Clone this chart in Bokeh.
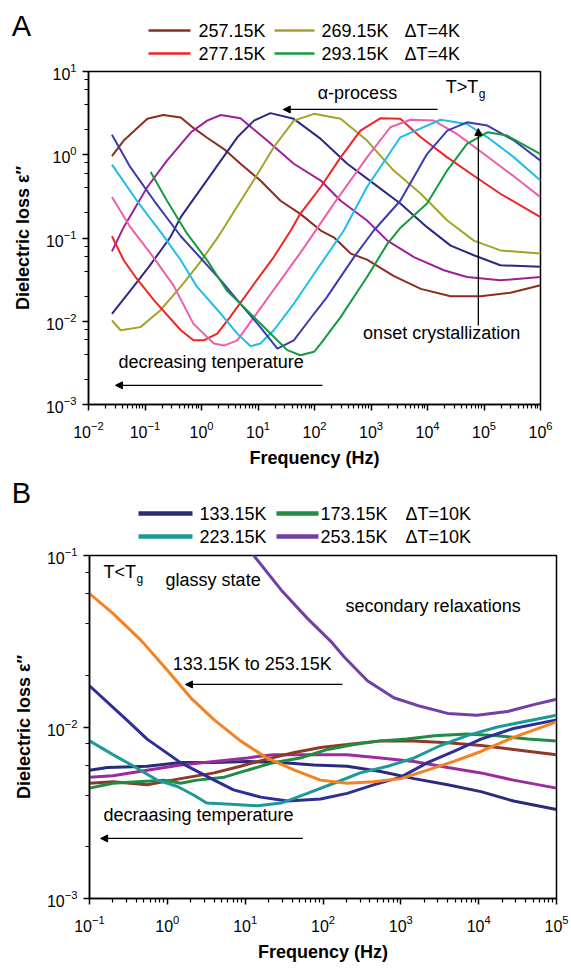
from bokeh.plotting import figure
from bokeh.models import Range1d, FixedTicker, Label, Arrow, NormalHead
from bokeh.core.properties import value
from bokeh.embed import file_html
from bokeh.resources import INLINE

FONT = "Liberation Sans"

# ---------------- Panel A data (T > Tg), frequency in Hz, dielectric loss ----------------
a257_f = [0.026, 0.042, 0.11, 0.21, 0.43, 0.72, 1.26, 2.5, 4.9, 11, 25, 56, 129, 219, 437, 850, 2500, 7600, 25700, 87000, 295000, 1e6]
a257_e = [0.96, 1.48, 2.7, 3.0, 2.8, 2.1, 1.6, 1.17, 0.78, 0.49, 0.28, 0.195, 0.123, 0.102, 0.065, 0.055, 0.035, 0.0245, 0.020, 0.020, 0.022, 0.027]

a261_f = [0.026, 0.042, 0.11, 0.245, 0.65, 1.26, 2.2, 4.9, 14.5, 43, 129, 290, 850, 1950, 5750, 19500, 50000, 195000, 1e6]
a261_e = [0.069, 0.135, 0.41, 0.85, 1.86, 2.57, 3.0, 2.75, 1.48, 0.78, 0.49, 0.28, 0.162, 0.093, 0.059, 0.041, 0.034, 0.031, 0.034]

a265_f = [0.026, 0.055, 0.117, 0.28, 0.43, 1.66, 4.3, 8.5, 16.6, 43, 129, 380, 1120, 3300, 9800, 25700, 66000, 195000, 1e6]
a265_e = [0.0123, 0.0234, 0.045, 0.102, 0.178, 0.65, 1.62, 2.57, 3.16, 2.7, 1.55, 0.78, 0.45, 0.26, 0.135, 0.081, 0.062, 0.047, 0.045]

a269_f = [0.026, 0.037, 0.083, 0.186, 0.43, 0.65, 1.0, 2.04, 8.5, 19, 43, 98, 290, 850, 2500, 7600, 22400, 66000, 195000, 1e6]
a269_e = [0.0102, 0.0078, 0.0085, 0.0135, 0.026, 0.037, 0.054, 0.107, 0.5, 1.23, 2.57, 3.1, 2.7, 1.48, 0.65, 0.34, 0.162, 0.093, 0.071, 0.065]

a277_f = [0.026, 0.042, 0.068, 0.145, 0.43, 0.72, 1.1, 1.9, 3.2, 8.5, 19, 38, 56, 129, 290, 650, 1480, 3300, 7600, 22400, 66000, 195000, 1e6]
a277_e = [0.105, 0.054, 0.034, 0.0178, 0.0078, 0.0059, 0.0059, 0.0071, 0.0112, 0.028, 0.059, 0.123, 0.195, 0.41, 0.93, 1.95, 2.75, 2.7, 1.62, 0.93, 0.56, 0.34, 0.178]

a281_f = [0.026, 0.055, 0.126, 0.32, 0.72, 1.66, 2.5, 4.3, 8.5, 25, 63, 219, 850, 2200, 5000, 12900, 33000, 100000, 295000, 1e6]
a281_e = [0.31, 0.135, 0.065, 0.027, 0.0093, 0.0054, 0.0051, 0.0059, 0.0112, 0.031, 0.074, 0.257, 0.93, 2.14, 2.63, 2.57, 1.78, 1.02, 0.59, 0.31]

a285_f = [0.026, 0.072, 0.2, 0.43, 0.83, 2.2, 4.3, 7.4, 11, 19, 43, 98, 330, 850, 3300, 17000, 50000, 115000, 340000, 1e6]
a285_e = [0.76, 0.28, 0.112, 0.054, 0.026, 0.0123, 0.0071, 0.005, 0.0054, 0.0078, 0.0162, 0.037, 0.123, 0.41, 1.62, 2.63, 2.34, 1.62, 0.93, 0.49]

a289_f = [0.026, 0.055, 0.145, 0.43, 1.0, 2.2, 4.9, 11, 22, 43, 98, 166, 500, 1120, 3300, 9800, 22400, 50000, 115000, 340000, 1e6]
a289_e = [1.74, 0.71, 0.28, 0.105, 0.056, 0.031, 0.0162, 0.0085, 0.0047, 0.0059, 0.0123, 0.0195, 0.059, 0.123, 0.28, 1.02, 1.95, 2.45, 2.24, 1.48, 0.85]

a293_f = [0.126, 0.245, 0.56, 1.26, 2.8, 8.5, 19, 33, 56, 98, 129, 290, 850, 1950, 3300, 9800, 22400, 50000, 115000, 257000, 1e6]
a293_e = [0.62, 0.28, 0.112, 0.054, 0.0234, 0.0112, 0.0065, 0.0045, 0.0039, 0.0043, 0.0054, 0.0112, 0.034, 0.085, 0.132, 0.26, 0.65, 1.35, 1.86, 1.7, 1.02]

a_curves = [
    (a257_f, a257_e, "#8B2E1E"),
    (a261_f, a261_e, "#9C1F9C"),
    (a265_f, a265_e, "#2A2A86"),
    (a269_f, a269_e, "#A3A32A"),
    (a277_f, a277_e, "#F02424"),
    (a281_f, a281_e, "#EE5FAA"),
    (a285_f, a285_e, "#1EBDEB"),
    (a289_f, a289_e, "#3C3CB0"),
    (a293_f, a293_e, "#159A40"),
]
a_legend_labels = ["257.15K", "269.15K", "277.15K", "293.15K"]
a_legend_colors = ["#8B2E1E", "#A3A32A", "#F02424", "#159A40"]
a_legend_step = "\u0394T=4K"

# ---------------- Panel B data (T < Tg) ----------------
b133_f = [0.1, 0.17, 0.55, 1.48, 4.0, 10.7, 29, 76, 204, 550, 1480, 4000, 10700, 28000, 100000]
b133_e = [0.0056, 0.0058, 0.0059, 0.0062, 0.0062, 0.0063, 0.0062, 0.006, 0.0059, 0.0055, 0.005, 0.0046, 0.0042, 0.0037, 0.0033]

b_magenta_f = [0.1, 0.2, 0.55, 1.48, 4.0, 10.7, 23, 76, 204, 550, 1480, 4000, 10700, 28000, 100000]
b_magenta_e = [0.0051, 0.0052, 0.0056, 0.006, 0.0063, 0.0066, 0.0069, 0.0069, 0.0069, 0.0066, 0.0063, 0.0058, 0.0054, 0.0049, 0.0044]

b_brown_f = [0.1, 0.2, 0.55, 1.48, 4.0, 8.7, 19, 43, 93, 204, 550, 1480, 4000, 10700, 28000, 100000]
b_brown_e = [0.0047, 0.0048, 0.0046, 0.005, 0.0054, 0.0059, 0.0065, 0.0071, 0.0076, 0.0079, 0.0083, 0.0083, 0.0081, 0.0078, 0.0074, 0.0069]

b173_f = [0.1, 0.2, 0.41, 0.9, 1.48, 2.4, 5.4, 10.7, 23, 51, 115, 250, 550, 1200, 2700, 7100, 17400, 43000, 100000]
b173_e = [0.0044, 0.0047, 0.0048, 0.0049, 0.0047, 0.0049, 0.0051, 0.0056, 0.0062, 0.0066, 0.0074, 0.0079, 0.0083, 0.0085, 0.0089, 0.0091, 0.0089, 0.0085, 0.0083]

b_navy_f = [0.1, 0.3, 0.55, 1.48, 4.0, 7.1, 15.8, 35, 93, 204, 447, 1000, 2200, 4800, 10700, 28000, 100000]
b_navy_e = [0.0174, 0.011, 0.0085, 0.0062, 0.0049, 0.0043, 0.0039, 0.0037, 0.0038, 0.0041, 0.0046, 0.0051, 0.0062, 0.0072, 0.0085, 0.0098, 0.011]

b223_f = [0.1, 0.2, 0.37, 0.74, 1.35, 2.2, 3.2, 6.5, 14.5, 29, 63, 138, 300, 680, 1480, 3240, 7100, 17400, 100000]
b223_e = [0.0083, 0.0069, 0.0059, 0.0049, 0.0045, 0.004, 0.0036, 0.00355, 0.00347, 0.0036, 0.0041, 0.0047, 0.0054, 0.0059, 0.0066, 0.0078, 0.0089, 0.010, 0.0117]

b_orange_f = [0.1, 0.2, 0.46, 1.0, 2.0, 4.0, 8.7, 19, 43, 93, 204, 447, 1000, 2200, 4800, 10700, 28000, 100000]
b_orange_e = [0.060, 0.046, 0.032, 0.0214, 0.0148, 0.011, 0.0083, 0.0066, 0.0056, 0.0049, 0.0047, 0.0048, 0.005, 0.0056, 0.0063, 0.0072, 0.0087, 0.0107]

b253_f = [7.9, 12.9, 29, 63, 126, 186, 372, 813, 1780, 4000, 9550, 23400, 51000, 100000]
b253_e = [0.141, 0.1, 0.063, 0.043, 0.0316, 0.0257, 0.0186, 0.0148, 0.0132, 0.012, 0.0117, 0.0123, 0.0135, 0.0145]

b_curves = [
    (b133_f, b133_e, "#2B2B7C"),
    (b_magenta_f, b_magenta_e, "#9B2D9B"),
    (b_brown_f, b_brown_e, "#8B3A2A"),
    (b173_f, b173_e, "#1E8C45"),
    (b_navy_f, b_navy_e, "#2D2F96"),
    (b223_f, b223_e, "#1E9A96"),
    (b_orange_f, b_orange_e, "#F58220"),
    (b253_f, b253_e, "#7040A8"),
]
b_legend_labels = ["133.15K", "173.15K", "223.15K", "253.15K"]
b_legend_colors = ["#2B2B7C", "#1E8C45", "#1E9A96", "#7040A8"]
b_legend_step = "\u0394T=10K"

a_xticks = [10.0 ** e for e in range(-2, 7)]
a_yticks = [10.0 ** e for e in range(-3, 2)]
b_xticks = [10.0 ** e for e in range(-1, 6)]
b_yticks = [10.0 ** e for e in range(-3, 0)]

OVERLAP = 6  # px by which a panel slides up under its legend strip (transparent border)


def minor(majors, mults):
    return [m * k for m in majors[:-1] for k in mults]


def style_axes(p):
    p.xgrid.visible = False
    p.ygrid.visible = False
    p.outline_line_color = "black"
    p.outline_line_width = 1.5
    p.outline_line_alpha = 1
    p.border_fill_color = None
    for ax in (p.xaxis[0], p.yaxis[0]):
        ax.axis_line_width = 1.5
        ax.axis_line_color = "black"
        ax.major_tick_line_color = "black"
        ax.minor_tick_line_color = "black"
        ax.major_tick_line_width = 1.5
        ax.minor_tick_line_width = 1.2
        ax.major_tick_in = 0
        ax.major_tick_out = 6
        ax.minor_tick_in = 0
        ax.minor_tick_out = 4
        ax.major_label_text_font = FONT
        ax.major_label_text_font_size = "16px"
        ax.major_label_text_color = "black"
        ax.axis_label_text_font = FONT
        ax.axis_label_text_font_size = "18px"
        ax.axis_label_text_font_style = "bold"
        ax.axis_label_text_color = "black"
    p.xaxis.major_label_standoff = 10
    p.yaxis.major_label_standoff = 6
    p.xaxis.axis_label_standoff = 7
    p.yaxis.axis_label_standoff = 10
    p.xaxis.axis_label = "Frequency (Hz)"
    p.yaxis.axis_label = "Dielectric loss \u03b5\u2033"


def label(p, x, y, text, align="left", size="18px", xo=0, yo=0):
    p.add_layout(Label(x=x, y=y, text=text, text_font=FONT, text_font_size=size,
                       text_align=align, text_baseline="middle", text_color="black",
                       x_offset=xo, y_offset=yo))


def arrow(p, x0, y0, x1, y1):
    p.add_layout(Arrow(end=NormalHead(size=7, fill_color="black", line_color="black", line_width=1),
                       x_start=x0, y_start=y0, x_end=x1, y_end=y1,
                       line_color="black", line_width=1.3))


def legend_fig(height, letter, letter_y, rows_y, labels, colors, step, lw, xs):
    """Strip above a panel holding its letter and legend; its coordinates are page pixels."""
    lf = figure(width=571, height=height, x_range=Range1d(0, 571), y_range=Range1d(height, 0),
                toolbar_location=None, output_backend="svg", min_border=0,
                x_axis_location=None, y_axis_location=None, outline_line_color=None)
    lf.grid.visible = False
    lx0, lx1, tx, l2x0, l2x1, t2x, sx = xs
    seg_y = [rows_y[0], rows_y[0], rows_y[1], rows_y[1]]
    lf.segment(x0=[lx0, l2x0, lx0, l2x0], y0=seg_y, x1=[lx1, l2x1, lx1, l2x1], y1=seg_y,
               line_color=colors, line_width=lw)
    lf.text(x=[tx, t2x, tx, t2x, sx, sx],
            y=[rows_y[0], rows_y[0], rows_y[1], rows_y[1], rows_y[0], rows_y[1]],
            text=[labels[0], labels[1], labels[2], labels[3], step, step],
            text_font=value(FONT), text_font_size=value("18px"), text_baseline="middle",
            text_align="left", text_color="black")
    lf.text(x=[21], y=[letter_y], text=[letter], text_font=value(FONT), text_font_size=value("29px"),
            text_baseline="middle", text_align="center", text_color="black")
    return lf


# ---------------- Panel A ----------------
legA = legend_fig(60 + OVERLAP, "A", 25, [30, 53], a_legend_labels, a_legend_colors, a_legend_step, 2.5,
                  (148, 190, 198, 274, 314, 321, 404))

pA = figure(width=571, height=414, x_axis_type="log", y_axis_type="log",
            x_range=Range1d(1e-2, 1e6), y_range=Range1d(1e-3, 1e1),
            toolbar_location=None, output_backend="svg",
            min_border_left=88, min_border_right=31, min_border_top=11, min_border_bottom=70,
            styles={"margin-top": f"-{OVERLAP}px"})
style_axes(pA)
pA.xaxis.ticker = FixedTicker(ticks=a_xticks, minor_ticks=minor(a_xticks, range(2, 10)))
pA.yaxis.ticker = FixedTicker(ticks=a_yticks, minor_ticks=minor(a_yticks, [2, 4, 6, 8]))
for f, e, c in a_curves:
    pA.line(f, e, line_color=c, line_width=2)

label(pA, 575, 5.45, "\u03b1-process", align="center")
arrow(pA, 15100, 3.5, 28, 3.5)
label(pA, 21000, 6.45, "T>T", align="left")
label(pA, 21000, 6.45, "g", align="left", size="12px", xo=33, yo=-7)
arrow(pA, 79400, 0.0089, 79400, 2.07)
label(pA, 17800, 0.00713, "onset crystallization", align="center")
label(pA, 0.034, 0.0032, "decreasing tenperature", align="left")
arrow(pA, 138, 0.0017, 0.030, 0.0017)

# ---------------- Panel B ----------------
legB = legend_fig(70 + OVERLAP, "B", 18, [39, 62], b_legend_labels, b_legend_colors, b_legend_step, 4.5,
                  (138, 192, 199, 276, 318, 320, 405))

pB = figure(width=571, height=424, x_axis_type="log", y_axis_type="log",
            x_range=Range1d(1e-1, 1e5), y_range=Range1d(1e-3, 1e-1),
            toolbar_location=None, output_backend="svg",
            min_border_left=89, min_border_right=15, min_border_top=11, min_border_bottom=70,
            styles={"margin-top": f"-{OVERLAP}px"})
style_axes(pB)
pB.xaxis.ticker = FixedTicker(ticks=b_xticks, minor_ticks=minor(b_xticks, range(2, 10)))
pB.yaxis.ticker = FixedTicker(ticks=b_yticks, minor_ticks=minor(b_yticks, [2, 4, 6, 8]))
for f, e, c in b_curves:
    pB.line(f, e, line_color=c, line_width=3)

label(pB, 0.151, 0.0796, "T<T", align="left")
label(pB, 0.151, 0.0796, "g", align="left", size="12px", xo=33, yo=-7)
label(pB, 0.95, 0.0715, "glassy state", align="left")
label(pB, 195, 0.0511, "secondary relaxations", align="left")
label(pB, 1.17, 0.0234, "133.15K to 253.15K", align="left")
arrow(pB, 178, 0.0177, 1.71, 0.0177)
label(pB, 0.151, 0.00305, "decraasing temperature", align="left")
arrow(pB, 55, 0.00224, 0.139, 0.00224)

open("out.html", "w").write(file_html([legA, pA, legB, pB], INLINE))
